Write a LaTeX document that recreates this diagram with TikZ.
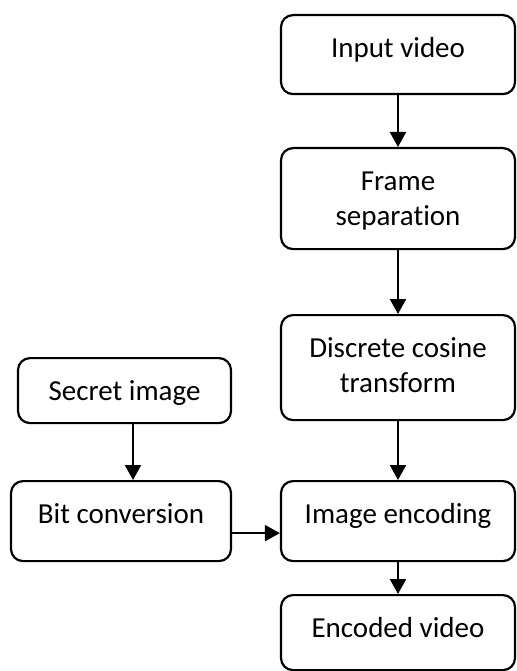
\documentclass[tikz,border=0pt]{standalone}
\usepackage{fontspec}
\setmainfont{Carlito}[Ligatures=NoCommon]
\usetikzlibrary{arrows.meta}
\newcommand\bxtext[3]{\parbox[t][#2][t]{#1}{\centering\rule{0pt}{42pt}#3\par}}
\begin{document}
\begin{tikzpicture}[x=1pt,y=-1pt,
  box/.style={draw, line width=2.2pt, rounded corners=12pt, inner sep=0pt, anchor=north, font=\fontsize{29}{35}\selectfont},
  arr/.style={line width=2.2pt, -{Triangle[width=16pt,length=15pt]}}]
\useasboundingbox (0,0) rectangle (516,671);
\node[box] (in) at (398,14) {\bxtext{234pt}{79pt}{Input video}};
\node[box] (fs) at (398,147) {\bxtext{234pt}{101pt}{Frame\\separation}};
\node[box] (dct) at (398,314) {\bxtext{234pt}{105pt}{Discrete cosine\\transform}};
\node[box] (ie) at (398,480) {\bxtext{234pt}{80pt}{Image encoding}};
\node[box] (ev) at (398,594) {\bxtext{234pt}{75pt}{Encoded video}};
\node[box] (si) at (124.5,357) {\bxtext{213pt}{65pt}{Secret image}};
\node[box] (bc) at (121,480) {\bxtext{220pt}{80pt}{Bit conversion}};
\draw[arr] (in) -- (fs);
\draw[arr] (fs) -- (dct);
\draw[arr] (dct) -- (ie);
\draw[arr] (ie) -- (ev);
\draw[arr] ([xshift=8.5pt]si.south) -- ([xshift=8.5pt]si.south |- bc.north);
\draw[arr] ([yshift=-12pt]bc.east) -- ([yshift=-12pt]bc.east -| ie.west);
\end{tikzpicture}
\end{document}
